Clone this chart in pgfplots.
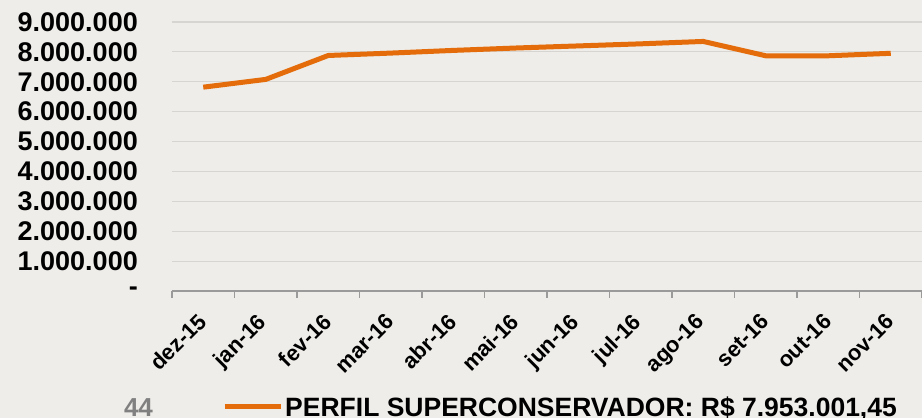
\documentclass[border=0pt]{standalone}
\usepackage{pgfplots}
\pgfplotsset{compat=1.18}
\usepackage{graphicx}
\usepackage{fontspec}
\setmainfont{Liberation Sans}
\definecolor{bg}{HTML}{EEEDE9}
\definecolor{gridc}{HTML}{D6D5D1}
\definecolor{lineor}{HTML}{E46C0A}
\definecolor{axc}{HTML}{9A9A9A}
\newcommand{\rl}[1]{\rotatebox{45}{#1}}
\begin{document}
\begin{tikzpicture}
\useasboundingbox (0,0) rectangle (922pt,418pt);
\fill[bg] (0,0) rectangle (922pt,418pt);
\begin{axis}[
  at={(172pt,127pt)}, anchor=south west,
  scale only axis, width=750pt, height=269pt,
  xmin=-0.5, xmax=11.5, ymin=0, ymax=9000000,
  scaled y ticks=false,
  axis x line*=bottom, axis y line*=left,
  y axis line style={draw=none},
  x axis line style={draw=axc, line width=1.2pt, -},
  ymajorgrids, grid style={draw=gridc, line width=1.2pt},
  ytick={0,1000000,...,9000000},
  yticklabels={-,1.000.000,2.000.000,3.000.000,4.000.000,5.000.000,6.000.000,7.000.000,8.000.000,9.000.000},
  xtick={0,...,11},
  xticklabels={\rl{dez-15},\rl{jan-16},\rl{fev-16},\rl{mar-16},\rl{abr-16},\rl{mai-16},\rl{jun-16},\rl{jul-16},\rl{ago-16},\rl{set-16},\rl{out-16},\rl{nov-16}},
  minor xtick={-0.5,0.5,...,11.5},
  tick align=outside,
  major tick length=0pt, minor tick length=7pt,
  minor tick style={draw=axc, line width=1.2pt},
  major tick style={draw=none},
  yticklabel style={anchor=east, inner sep=0pt, xshift=-34pt, font=\fontsize{27}{27}\selectfont\bfseries},
  xticklabel style={anchor=north east, inner sep=0pt, xshift=5pt, font=\fontsize{22}{22}\selectfont\bfseries},
  xticklabel shift=21pt,
  legend style={at={(0.0667,-0.431)}, anchor=west, draw=none, fill=none, inner sep=0pt,
    font=\fontsize{26.5}{26.5}\selectfont\bfseries,
    /tikz/every even column/.style={column sep=0pt}},
  legend image code/.code={\draw[#1] (0pt,0pt) -- (56pt,0pt);},
  clip=false,
]
\addplot[color=lineor, line width=5pt, line join=round] coordinates {
(0,6820000) (1,7080000) (2,7880000) (3,7960000) (4,8050000) (5,8130000)
(6,8200000) (7,8270000) (8,8350000) (9,7870000) (10,7870000) (11,7953001)
};
\addlegendentry{PERFIL SUPERCONSERVADOR: R\$ 7.953.001,45}
\end{axis}
\node[anchor=base, text=gray, font=\fontsize{26}{26}\selectfont\bfseries] at (138.5pt,1pt) {44};
\end{tikzpicture}
\end{document}
